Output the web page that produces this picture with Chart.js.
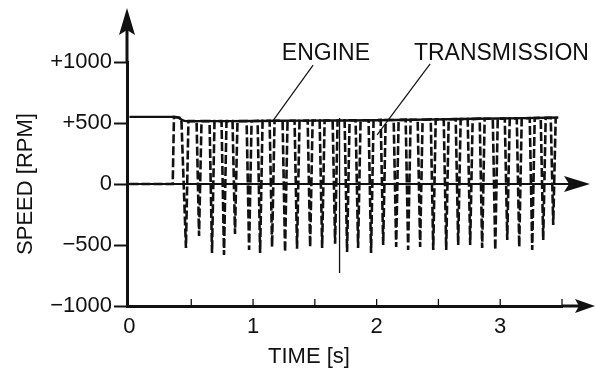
<!DOCTYPE html>
<html>
<head>
<meta charset="utf-8">
<script src="https://cdn.jsdelivr.net/npm/chart.js@4"></script>
<style>
  html, body { margin: 0; padding: 0; background: #fff; }
  #wrap { width: 595px; height: 371px; position: relative; }
</style>
</head>
<body>
<div id="wrap"><canvas id="c" width="595" height="371"></canvas></div>
<script>
// Engine speed (RPM) over time (s)
const engineTime  = [0, 0.36, 0.39, 0.42, 0.46, 0.8, 1.2, 1.6, 2.0, 2.4, 2.8, 3.2, 3.47];
const engineSpeed = [550, 550, 546, 528, 515, 515, 518, 520, 522, 528, 535, 540, 545];

// Transmission speed (RPM): locks up, then rattles between engine speed and reverse
const transTime = [0, 0.35, 0.36, 0.40,
  0.42, 0.457, 0.477,  0.543, 0.563, 0.583, 0.648, 0.668, 0.688, 0.745, 0.765, 0.785,
  0.834, 0.854, 0.874, 0.948, 0.968, 0.988, 1.037, 1.057, 1.077, 1.134, 1.154, 1.174,
  1.239, 1.259, 1.279, 1.336, 1.356, 1.376, 1.442, 1.462, 1.482, 1.539, 1.559, 1.579,
  1.644, 1.664, 1.684, 1.741, 1.761, 1.781, 1.830, 1.850, 1.870, 1.935, 1.955, 1.975,
  2.033, 2.053, 2.073, 2.138, 2.158, 2.178, 2.235, 2.255, 2.275, 2.332, 2.352, 2.372,
  2.438, 2.458, 2.478, 2.543, 2.563, 2.583, 2.640, 2.660, 2.680, 2.737, 2.757, 2.777,
  2.834, 2.854, 2.874, 2.940, 2.960, 2.980, 3.037, 3.057, 3.077, 3.134, 3.154, 3.174,
  3.239, 3.259, 3.279, 3.328, 3.348, 3.368, 3.409, 3.429, 3.449];
const transSpeed = [0, 0, 550, 545,
  535, -525, 515,   515, -426, 515,   515, -566, 515,   515, -582, 515,
  515, -410, 515,   515, -541, 515,   518, -566, 518,   518, -516, 518,
  518, -557, 518,   518, -530, 518,   520, -516, 520,   520, -525, 520,
  520, -490, 520,   522, -557, 522,   522, -525, 522,   522, -566, 522,
  525, -500, 525,   525, -516, 525,   527, -541, 527,   527, -516, 527,
  530, -541, 530,   530, -541, 530,   532, -500, 532,   532, -500, 532,
  535, -525, 535,   535, -541, 535,   537, -459, 537,   538, -516, 538,
  540, -541, 540,   542, -459, 542,   543, -336, 543];

// Single sharp transient
const spikeTime  = [1.70, 1.70];
const spikeSpeed = [540, -730];

// Axis ticks
const speedTicks = [-1000, -500, 0, 500, 1000];
const timeTicks = [0, 1, 2, 3];
const timeMinorTicks = [0.5, 1, 1.5, 2, 2.5, 3, 3.5];

// Callout labels (data coordinates)
const callouts = [
  { text: 'ENGINE',       label: { x: 1.59, y: 1016 }, from: { x: 1.486, y: 975 }, to: { x: 1.162, y: 520 } },
  { text: 'TRANSMISSION', label: { x: 3.01, y: 1016 }, from: { x: 2.433, y: 984 }, to: { x: 2.004, y: 402 } }
];

const ink = '#111';
const fontFamily = '"Liberation Sans", Arial, Helvetica, sans-serif';
Chart.defaults.font.family = fontFamily;
Chart.defaults.color = ink;

const pts = (xs, ys) => xs.map((x, i) => ({ x, y: ys[i] }));

function arrowHead(ctx, tipX, tipY, dir, len, half, notch) {
  ctx.beginPath();
  if (dir === 'right') {
    ctx.moveTo(tipX, tipY);
    ctx.lineTo(tipX - len, tipY - half);
    ctx.lineTo(tipX - len + notch, tipY);
    ctx.lineTo(tipX - len, tipY + half);
  } else {
    ctx.moveTo(tipX, tipY);
    ctx.lineTo(tipX - half, tipY + len);
    ctx.lineTo(tipX, tipY + len - notch);
    ctx.lineTo(tipX + half, tipY + len);
  }
  ctx.closePath();
  ctx.fill();
}

const decorations = {
  id: 'decorations',
  afterDraw(chart) {
    const { ctx, chartArea: a, scales: { x, y } } = chart;
    ctx.save();
    ctx.strokeStyle = ink;
    ctx.fillStyle = ink;
    ctx.lineCap = 'butt';

    // vertical axis extension with arrow
    ctx.lineWidth = 3;
    ctx.beginPath();
    ctx.moveTo(a.left, a.top);
    ctx.lineTo(a.left, 24);
    ctx.stroke();
    arrowHead(ctx, a.left, 8, 'up', 27, 8, 5);

    // bottom axis extension with arrow
    ctx.beginPath();
    ctx.moveTo(a.right, a.bottom);
    ctx.lineTo(580, a.bottom);
    ctx.stroke();
    arrowHead(ctx, 595, a.bottom, 'right', 20, 7, 4);

    // zero line with arrow
    const y0 = y.getPixelForValue(0);
    ctx.lineWidth = 1.8;
    ctx.beginPath();
    ctx.moveTo(a.left, y0);
    ctx.lineTo(570, y0);
    ctx.stroke();
    arrowHead(ctx, 590, y0, 'right', 26, 8, 5);

    // minor ticks on time axis, pointing inward
    ctx.lineWidth = 1.3;
    timeMinorTicks.forEach(t => {
      const px = x.getPixelForValue(t);
      ctx.beginPath();
      ctx.moveTo(px, a.bottom);
      ctx.lineTo(px, a.bottom - 7);
      ctx.stroke();
    });

    // callouts
    ctx.font = '23px ' + fontFamily;
    ctx.textAlign = 'center';
    ctx.textBaseline = 'alphabetic';
    ctx.lineWidth = 1.2;
    callouts.forEach(c => {
      ctx.beginPath();
      ctx.moveTo(x.getPixelForValue(c.from.x), y.getPixelForValue(c.from.y));
      ctx.lineTo(x.getPixelForValue(c.to.x), y.getPixelForValue(c.to.y));
      ctx.stroke();
      ctx.fillText(c.text, x.getPixelForValue(c.label.x), y.getPixelForValue(c.label.y));
    });

    // time axis title
    ctx.font = '22px ' + fontFamily;
    ctx.fillText('TIME [s]', 309, 363);
    ctx.restore();
  }
};

new Chart(document.getElementById('c'), {
  type: 'line',
  data: {
    datasets: [
      {
        label: 'ENGINE',
        data: pts(engineTime, engineSpeed),
        borderColor: ink,
        borderWidth: 2.4,
        pointRadius: 0,
        cubicInterpolationMode: 'monotone'
      },
      {
        label: 'TRANSMISSION',
        data: pts(transTime, transSpeed),
        borderColor: ink,
        borderWidth: 2.6,
        borderDash: [9, 3],
        pointRadius: 0,
        tension: 0
      },
      {
        label: 'spike',
        data: pts(spikeTime, spikeSpeed),
        borderColor: ink,
        borderWidth: 1.3,
        pointRadius: 0
      }
    ]
  },
  options: {
    responsive: false,
    animation: false,
    devicePixelRatio: 1,
    layout: { padding: { top: 62, right: 33, left: 0, bottom: 0 } },
    plugins: { legend: { display: false }, tooltip: { enabled: false } },
    scales: {
      x: {
        type: 'linear',
        min: -0.02,
        max: 3.5,
        afterFit: s => { s.height = 65; },
        afterBuildTicks: s => { s.ticks = timeTicks.map(v => ({ value: v })); },
        border: { display: true, color: ink, width: 3 },
        grid: { display: false, drawTicks: false },
        ticks: {
          font: { size: 22 },
          color: ink,
          padding: 8,
          maxRotation: 0,
          autoSkip: false,
          callback: v => String(v)
        }
      },
      y: {
        min: -1000,
        max: 1000,
        afterFit: s => { s.width = 127; },
        afterBuildTicks: s => { s.ticks = speedTicks.map(v => ({ value: v })); },
        border: { display: true, color: ink, width: 3 },
        grid: { display: true, drawOnChartArea: false, drawTicks: true, tickLength: 13, tickWidth: 2, color: ink },
        ticks: {
          font: { size: 22 },
          color: ink,
          padding: 2,
          callback: v => v > 0 ? '+' + v : (v < 0 ? '\u2212' + Math.abs(v) : '0')
        },
        title: {
          display: true,
          text: 'SPEED [RPM]',
          font: { size: 22 },
          color: ink,
          padding: { top: 13, bottom: 0 }
        }
      }
    }
  },
  plugins: [decorations]
});
</script>
</body>
</html>
